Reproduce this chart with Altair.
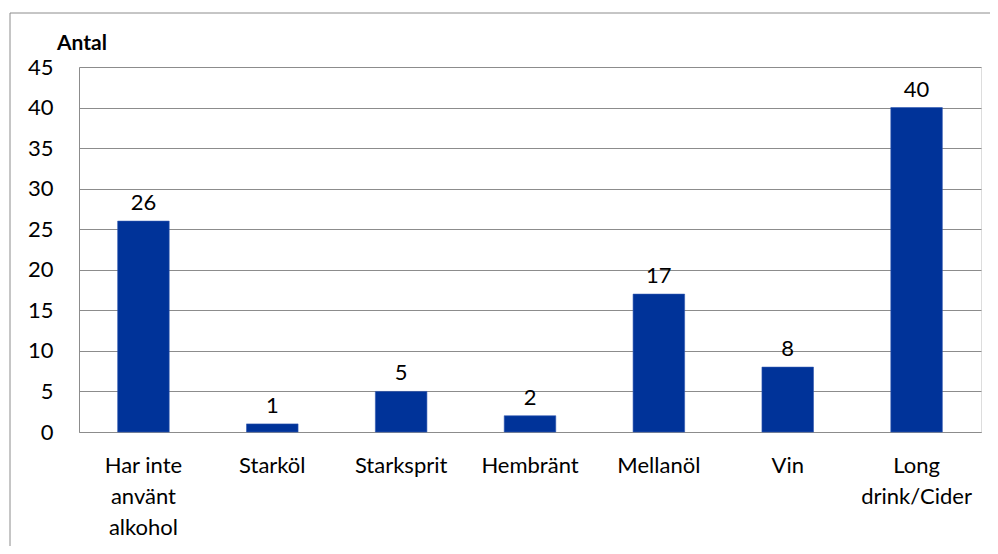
import altair as alt
import pandas as pd

categories = ["Har inte\nanvänt\nalkohol", "Starköl", "Starksprit", "Hembränt",
              "Mellanöl", "Vin", "Long\ndrink/Cider"]
values = [26, 1, 5, 2, 17, 8, 40]

df = pd.DataFrame({"kategori": categories, "antal": values})

FONT = "Lato"
FS = 22
W, H = 902, 365

x = alt.X("kategori:N", sort=None, title=None,
          scale=alt.Scale(paddingInner=0.6, paddingOuter=0.3),
          axis=alt.Axis(labelAngle=0, labelFontSize=FS, labelFont=FONT, labelColor="#000000",
                        labelPadding=23, labelLineHeight=31, ticks=False,
                        domainColor="#8c8c8c", labelExpr="split(datum.label, '\\n')"))
y = alt.Y("antal:Q", title=None,
          scale=alt.Scale(domain=[0, 45]),
          axis=alt.Axis(values=list(range(0, 46, 5)), labelFontSize=FS, labelFont=FONT,
                        labelColor="#000000", labelPadding=26, ticks=False,
                        domainColor="#8c8c8c", gridColor="#8c8c8c", grid=True))

bars = alt.Chart(df).mark_bar(color="#003399", stroke="#2f57b0", strokeWidth=0.6).encode(x=x, y=y)
labels = alt.Chart(df).mark_text(baseline="alphabetic", dy=-11, fontSize=FS, font=FONT,
                                 color="#000000").encode(x=x, y=y, text="antal:Q")

border = alt.Chart(pd.DataFrame({"a": [0]})).mark_rect(
    fill=None, stroke="#8c8c8c", strokeWidth=1).encode(
    x=alt.value(-69), x2=alt.value(W + 60), y=alt.value(-54), y2=alt.value(H + 200))

title = alt.Chart(pd.DataFrame({"t": ["Antal"]})).mark_text(
    align="left", baseline="alphabetic", fontSize=21, fontWeight="bold", font=FONT,
    color="#000000").encode(x=alt.value(-22), y=alt.value(-17), text="t:N")

chart = alt.layer(border, bars, labels, title).properties(
    width=W, height=H,
    autosize=alt.AutoSizeParams(type="none"),
    padding={"left": 71, "top": 59, "right": 9, "bottom": 114},
).configure_view(stroke=None).configure(background="white")

chart.save("out.html", embed_options={"renderer": "svg", "actions": False})
